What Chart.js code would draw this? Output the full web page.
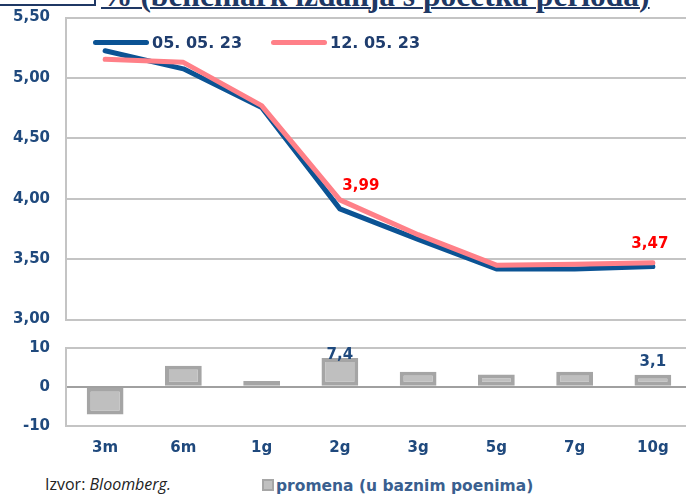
<!DOCTYPE html>
<html>
<head>
<meta charset="utf-8">
<script src="https://cdn.jsdelivr.net/npm/chart.js@4"></script>
<style>
  html, body { margin:0; padding:0; background:#fff; }
  body { width:686px; height:496px; overflow:hidden; position:relative; font-family:"DejaVu Sans", sans-serif; }
  #topWrap { position:absolute; left:0; top:0; width:720px; height:330px; }
  #botWrap { position:absolute; left:0; top:330px; width:720px; height:135px; }
  .title { position:absolute; left:101px; top:-20px; line-height:31px; white-space:nowrap; font-family:"Liberation Serif","Times New Roman",serif; font-weight:bold; font-size:31.5px; color:#1f3864; text-decoration:underline; text-decoration-thickness:2px; }
  .tbox { position:absolute; left:-2px; top:-10px; width:94px; height:12px; border:2px solid #1f3864; }
  .leg { position:absolute; font-weight:bold; font-size:16px; color:#1f3d6e; white-space:nowrap; line-height:20px; }
  .legline { position:absolute; height:5px; border-radius:3px; }
  .src { position:absolute; left:45px; top:473px; font-family:"Open Sans",sans-serif; font-size:16px; color:#222; white-space:nowrap; }
  .bleg { position:absolute; left:262px; top:476px; font-weight:bold; font-size:15.5px; color:#3a5f8f; white-space:nowrap; line-height:20px; }
  .bsq { display:inline-block; width:8px; height:8px; background:#c0c0c0; border:2px solid #a6a6a6; margin-right:2px; vertical-align:0px; }
</style>
</head>
<body>
<div class="tbox"></div>
<div class="title">% (benčmark izdanja s početka perioda)</div>
<div id="topWrap"><canvas id="top"></canvas></div>
<div id="botWrap"><canvas id="bot"></canvas></div>

<div class="legline" style="left:93px; top:40px; width:56px; background:#0b5394;"></div>
<div class="leg" style="left:152px; top:33px;">05. 05. 23</div>
<div class="legline" style="left:271px; top:40px; width:56px; background:#ff8088;"></div>
<div class="leg" style="left:330px; top:33px;">12. 05. 23</div>

<div class="src">Izvor: <i>Bloomberg.</i></div>
<div class="bleg"><span class="bsq"></span>promena (u baznim poenima)</div>

<script>
const categories = ["3m", "6m", "1g", "2g", "3g", "5g", "7g", "10g"];
const seriesNames = ["05. 05. 23", "12. 05. 23"];
const yield0505 = [5.225, 5.075, 4.755, 3.916, 3.663, 3.418, 3.418, 3.439];
const yield1205 = [5.154, 5.129, 4.770, 3.990, 3.702, 3.450, 3.457, 3.470];
const changeBp = [-7.1, 5.4, 1.5, 7.4, 3.9, 3.2, 3.9, 3.1];
const yieldLabels = { 3: "3,99", 7: "3,47" };
const changeLabels = { 3: "7,4", 7: "3,1" };
const topTicks = [3.0, 3.5, 4.0, 4.5, 5.0, 5.5];
const botTicks = [-10, 0, 10];

const tickColor = "#1f497d";
const tickFont = { family: "DejaVu Sans", size: 15, weight: "bold" };

const lineLabelPlugin = {
  id: "lineLabels",
  afterDatasetsDraw(chart) {
    const meta = chart.getDatasetMeta(1);
    const ctx = chart.ctx;
    ctx.save();
    ctx.font = "bold 15px 'DejaVu Sans'";
    ctx.fillStyle = "#ff0000";
    ctx.textAlign = "center";
    ctx.textBaseline = "middle";
    const offs = { 3: [21, -14], 7: [-3, -19] };
    Object.keys(yieldLabels).forEach(k => {
      const p = meta.data[k];
      ctx.fillText(yieldLabels[k], p.x + offs[k][0], p.y + offs[k][1]);
    });
    ctx.restore();
  }
};

new Chart(document.getElementById("top"), {
  type: "line",
  data: {
    labels: categories,
    datasets: [
      { label: seriesNames[0], data: yield0505, borderColor: "#0b5394", borderWidth: 5, pointRadius: 0, tension: 0, order: 2, borderJoinStyle: "round", borderCapStyle: "round" },
      { label: seriesNames[1], data: yield1205, borderColor: "#ff8088", borderWidth: 5, pointRadius: 0, tension: 0, order: 1, borderJoinStyle: "round", borderCapStyle: "round" }
    ]
  },
  options: {
    responsive: true, maintainAspectRatio: false, animation: false,
    layout: { padding: { left: 0, right: 28, top: 17.5, bottom: 10.5 } },
    plugins: { legend: { display: false }, tooltip: { enabled: false } },
    scales: {
      x: { offset: true, display: false },
      y: {
        min: 3, max: 5.5,
        afterFit(s) { s.width = 66; },
        afterBuildTicks(s) { s.ticks = topTicks.map(v => ({ value: v })); },
        border: { display: true, color: "#c4c4c4", width: 2 },
        grid: { color: "#c4c4c4", lineWidth: 2, drawTicks: true, tickLength: 16, tickColor: "rgba(0,0,0,0)" },
        ticks: { color: tickColor, font: tickFont, padding: 0, callback: v => v.toFixed(2).replace(".", ",") }
      }
    }
  },
  plugins: [lineLabelPlugin]
});

const barLabelPlugin = {
  id: "barLabels",
  afterDatasetsDraw(chart) {
    const meta = chart.getDatasetMeta(0);
    const ctx = chart.ctx;
    ctx.save();
    ctx.font = "bold 15px 'DejaVu Sans'";
    ctx.fillStyle = tickColor;
    ctx.textAlign = "center";
    ctx.textBaseline = "middle";
    const offs = { 3: -3, 7: -13 };
    Object.keys(changeLabels).forEach(k => {
      const b = meta.data[k];
      ctx.fillText(changeLabels[k], b.x, b.y + offs[k]);
    });
    ctx.restore();
  }
};

new Chart(document.getElementById("bot"), {
  type: "bar",
  data: {
    labels: categories,
    datasets: [
      { label: "promena (u baznim poenima)", data: changeBp, backgroundColor: "#bfbfbf", borderColor: "#a5a5a5", borderWidth: 4, borderSkipped: false, barPercentage: 0.47, categoryPercentage: 1 }
    ]
  },
  options: {
    responsive: true, maintainAspectRatio: false, animation: false,
    layout: { padding: { left: 0, right: 28, top: 18, bottom: 0 } },
    plugins: { legend: { display: false }, tooltip: { enabled: false } },
    scales: {
      x: {
        afterFit(s) { s.height = 39.3; },
        border: { display: false },
        grid: { display: false, drawTicks: false },
        ticks: { color: tickColor, font: tickFont, padding: 13 }
      },
      y: {
        min: -10, max: 10,
        afterFit(s) { s.width = 66; },
        afterBuildTicks(s) { s.ticks = botTicks.map(v => ({ value: v })); },
        border: { display: true, color: "#c4c4c4", width: 2 },
        grid: { color: c => c.tick && c.tick.value === 0 ? "#a0a0a0" : "#c4c4c4", lineWidth: 2, drawTicks: true, tickLength: 16, tickColor: "rgba(0,0,0,0)" },
        ticks: { color: tickColor, font: tickFont, padding: 0, callback: v => String(v) }
      }
    }
  },
  plugins: [barLabelPlugin]
});
</script>
</body>
</html>
